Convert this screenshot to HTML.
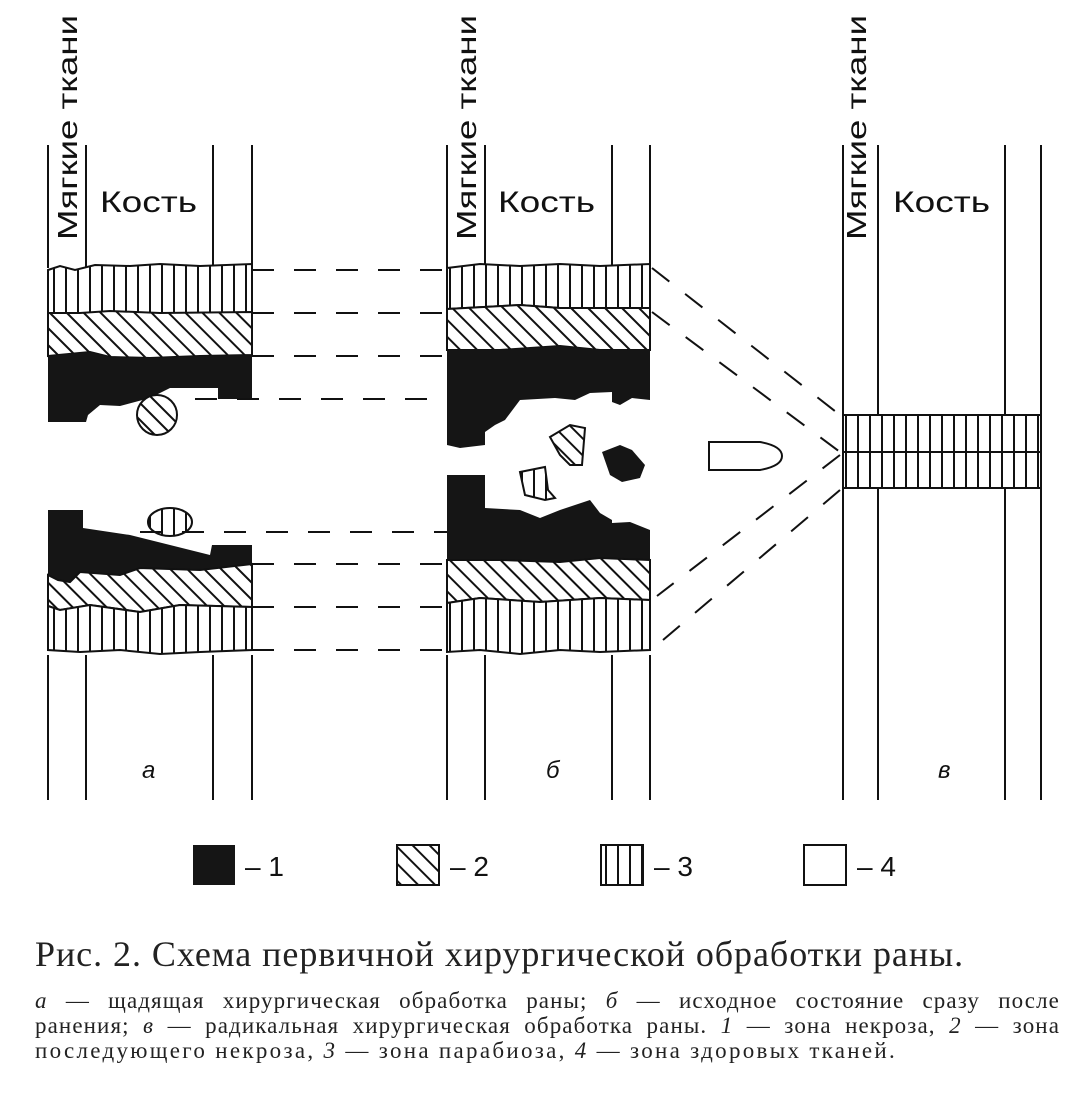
<!DOCTYPE html>
<html><head><meta charset="utf-8"><style>
html,body{margin:0;padding:0;background:#fff;width:1091px;height:1113px;overflow:hidden}
svg{position:absolute;left:0;top:0}
.cap{position:absolute;left:35px;top:933px;font:36px "Liberation Serif","Noto Serif CJK SC",serif;color:#222;letter-spacing:0.95px;white-space:nowrap}
.l{position:absolute;left:35px;width:1025px;font:23px "Liberation Serif","Noto Serif CJK SC",serif;color:#222;text-align:justify;text-align-last:justify;white-space:nowrap;letter-spacing:1.1px}
.l.last{text-align-last:left;letter-spacing:2.3px}
</style></head><body>
<svg width="1091" height="1113" viewBox="0 0 1091 1113">
<defs>
<pattern id="v" width="12" height="10" patternUnits="userSpaceOnUse"><rect width="12" height="10" fill="#fff"/><line x1="6" y1="0" x2="6" y2="10" stroke="#111" stroke-width="2"/></pattern>
<pattern id="h" width="12" height="12" patternUnits="userSpaceOnUse" patternTransform="rotate(-45)"><rect width="12" height="12" fill="#fff"/><line x1="6" y1="0" x2="6" y2="12" stroke="#111" stroke-width="2"/></pattern>
</defs>
<g stroke="#111" stroke-width="2" fill="none">
<path d="M48 145V268M86 145V268M213 145V268M252 145V268M48 655V800M86 655V800M213 655V800M252 655V800"/>
<path d="M447 145V268M485 145V268M612 145V268M650 145V268M447 655V800M485 655V800M612 655V800M650 655V800"/>
<path d="M843 145V800M878 145V415M878 488V800M1005 145V415M1005 488V800M1041 145V800"/>
</g>
<path d="M48 270 L60 266 L75 270 L95 265 L130 266 L160 264 L200 266 L252 264 V313 H48Z" fill="url(#v)" stroke="#111" stroke-width="2"/>
<path d="M48 313 L80 313 L110 311 L160 313 L252 312 V355 L200 356 L150 358 L110 357 L90 352 L48 356Z" fill="url(#h)" stroke="#111" stroke-width="2"/>
<path d="M48 356 L90 352 L110 357 L150 358 L200 356 L252 355 V399 L218 399 L218 388 L170 388 L150 398 L120 406 L100 405 L88 415 L86 422 L48 422Z" fill="#151515"/>
<ellipse cx="157" cy="415" rx="20" ry="20" fill="url(#h)" stroke="#111" stroke-width="2"/>
<ellipse cx="170" cy="522" rx="22" ry="14" fill="url(#v)" stroke="#111" stroke-width="2"/>
<path d="M48 510 L83 510 L83 528 L130 535 L170 545 L210 555 L212 545 L252 545 V564 L200 570 L140 568 L120 575 L80 572 L70 582 L58 580 L48 575Z" fill="#151515"/>
<path d="M48 575 L58 580 L70 582 L80 572 L120 575 L140 568 L200 570 L252 564 V607 L180 605 L140 612 L90 605 L60 610 L48 606Z" fill="url(#h)" stroke="#111" stroke-width="2"/>
<path d="M48 606 L60 610 L90 605 L140 612 L180 605 L252 607 V650 L200 652 L160 654 L120 650 L80 652 L48 650Z" fill="url(#v)" stroke="#111" stroke-width="2"/>
<path d="M447 268 L480 264 L520 266 L560 264 L600 266 L650 264 V308 L560 308 L520 305 L447 309Z" fill="url(#v)" stroke="#111" stroke-width="2"/>
<path d="M447 309 L520 305 L560 308 L650 308 V350 L600 350 L560 346 L500 350 L447 350Z" fill="url(#h)" stroke="#111" stroke-width="2"/>
<path d="M447 350 L500 350 L560 346 L600 350 L650 350 V400 L632 398 L620 405 L612 402 L612 392 L590 393 L575 400 L555 398 L520 400 L505 420 L495 425 L485 432 L485 445 L460 448 L447 445Z" fill="#151515"/>
<path d="M550 437 L570 425 L585 428 L582 465 L570 465 L560 455Z" fill="url(#h)" stroke="#111" stroke-width="2"/>
<path d="M602 452 L620 445 L632 450 L645 465 L640 478 L622 482 L610 475Z" fill="#151515"/>
<path d="M520 472 L545 467 L548 490 L555 498 L545 500 L525 495Z" fill="url(#v)" stroke="#111" stroke-width="2"/>
<path d="M709 442 H760 Q782 446 782 456 Q782 466 760 470 H709Z" fill="#fff" stroke="#111" stroke-width="2"/>
<path d="M447 475 L485 475 L485 508 L520 510 L540 518 L560 510 L590 500 L600 513 L612 520 L612 523 L630 522 L650 530 V560 L600 558 L560 562 L500 560 L447 560Z" fill="#151515"/>
<path d="M447 560 L500 560 L560 562 L600 558 L650 560 V600 L600 598 L540 602 L480 598 L447 603Z" fill="url(#h)" stroke="#111" stroke-width="2"/>
<path d="M447 603 L480 598 L540 602 L600 598 L650 600 V650 L600 652 L560 650 L520 654 L480 650 L447 652Z" fill="url(#v)" stroke="#111" stroke-width="2"/>
<rect x="843" y="415" width="198" height="73" fill="url(#v)" stroke="#111" stroke-width="2"/>
<line x1="843" y1="452" x2="1041" y2="452" stroke="#111" stroke-width="2"/>
<g stroke="#111" stroke-width="2" stroke-dasharray="22 20" fill="none">
<path d="M252 270H447M252 313H447M252 356H447M195 399H447M140 532H447M252 564H447M252 607H447M252 650H447"/>
<path d="M652 268L840 415M652 312L840 452M840 455L657 596M840 490L663 640"/>
</g>
<g font-family="Liberation Sans, sans-serif" fill="#111">
<text x="0" y="0" font-size="28" textLength="225" lengthAdjust="spacingAndGlyphs" transform="translate(77,240) rotate(-90)">Мягкие ткани</text>
<text x="0" y="0" font-size="28" textLength="225" lengthAdjust="spacingAndGlyphs" transform="translate(476,240) rotate(-90)">Мягкие ткани</text>
<text x="0" y="0" font-size="28" textLength="225" lengthAdjust="spacingAndGlyphs" transform="translate(866,240) rotate(-90)">Мягкие ткани</text>
<text x="100" y="212" font-size="30" textLength="97" lengthAdjust="spacingAndGlyphs">Кость</text>
<text x="498" y="212" font-size="30" textLength="97" lengthAdjust="spacingAndGlyphs">Кость</text>
<text x="893" y="212" font-size="30" textLength="97" lengthAdjust="spacingAndGlyphs">Кость</text>
<text x="142" y="778" font-size="24" font-style="italic">а</text>
<text x="546" y="778" font-size="24" font-style="italic">б</text>
<text x="938" y="778" font-size="24" font-style="italic">в</text>
<rect x="193" y="845" width="42" height="40" fill="#151515"/>
<rect x="397" y="845" width="42" height="40" fill="url(#h)" stroke="#111" stroke-width="2"/>
<rect x="601" y="845" width="42" height="40" fill="url(#v)" stroke="#111" stroke-width="2"/>
<rect x="804" y="845" width="42" height="40" fill="#fff" stroke="#111" stroke-width="2"/>
<text x="245" y="876" font-size="28">– 1</text>
<text x="450" y="876" font-size="28">– 2</text>
<text x="654" y="876" font-size="28">– 3</text>
<text x="857" y="876" font-size="28">– 4</text>
</g>
</svg>
<div class="cap">Рис. 2. Схема первичной хирургической обработки раны.</div>
<div class="l" style="top:988px"><i>а</i> — щадящая хирургическая обработка раны; <i>б</i> — исходное состояние сразу после</div>
<div class="l" style="top:1013px">ранения; <i>в</i> — радикальная хирургическая обработка раны. <i>1</i> — зона некроза, <i>2</i> — зона</div>
<div class="l last" style="top:1038px">последующего некроза, <i>3</i> — зона парабиоза, <i>4</i> — зона здоровых тканей.</div>
</body></html>
